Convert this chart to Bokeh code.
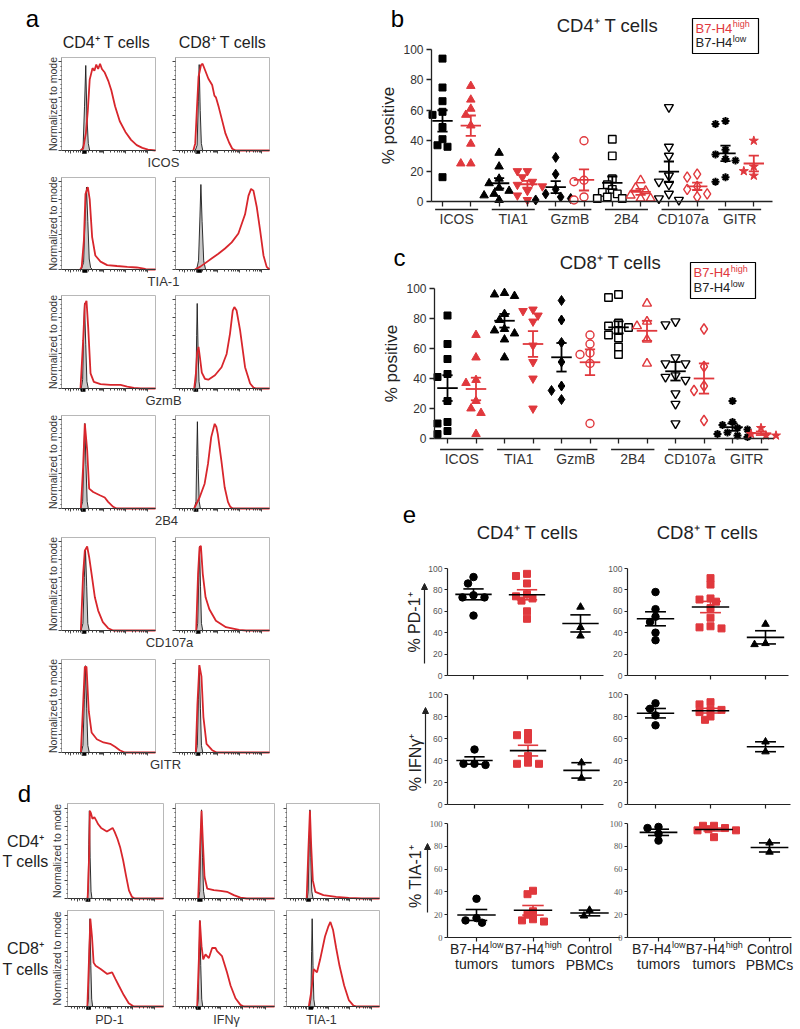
import numpy as np
from bokeh.plotting import figure
from bokeh.models import Range1d, LinearAxis, FixedTicker, Arrow, NormalHead
from bokeh.embed import file_html
from bokeh.resources import INLINE
from bokeh.core.properties import value

FONT = "Liberation Sans"
SERIF = "Liberation Serif"
RED = "#e0383d"
HRED = "#d8262c"
INK = "#222222"

# ======================= DATA =======================
# ---- panel a/d: flow histograms, (x % of axis, y % of mode)
icos_cd4_red = [(20,0),(23,2),(26,20),(28,45),(30,80),(33,93),(35,90),(37,97),(39,92),(41,98),(43,92),(46,88),(50,78),(53,68),(57,50),(62,33),(68,21),(74,12),(80,6),(86,3),(92,1),(100,0)]
icos_cd4_iso = [(21,0),(23,5),(24.5,50),(25.8,96),(27,40),(28.5,8),(30,0)]
icos_cd8_red = [(19,0),(21,8),(22.7,45),(24.5,83),(27,96),(28.8,98),(31.7,90),(35,81),(39,74),(41.4,62),(43,60),(46,49),(49.6,34),(53.2,19),(57,9),(60.4,2),(64,0),(100,0)]
icos_cd8_iso = [(21,0),(23,6),(24.3,55),(25.2,97),(26.3,45),(27.5,8),(29,0)]
tia_cd4_red = [(20,0),(21.5,3),(23.8,33),(25.5,86),(28,94),(30,80),(32.6,37),(36,16),(41.5,9),(48.6,5),(59,4),(70,3),(80,2.3),(87.6,1),(91,0),(100,0)]
tia_cd4_iso = [(21,0),(23.5,8),(25,55),(26.6,94),(28,55),(29.5,12),(31,2),(33,0)]
tia_cd8_red = [(20.6,0),(26,3),(31.3,7),(38.4,12.5),(45.6,18),(52.7,24),(59.8,31),(66.9,41),(74,63),(77.6,84),(80.4,92),(82.9,90),(86.5,71),(90,45),(93.6,16),(97,3),(100,0)]
tia_cd8_iso = [(22.4,0),(24.5,10),(26,60),(27,97),(28.3,55),(30,10),(32,0)]
gzmb_cd4_red = [(20.2,0),(23,54),(24.8,95),(26.6,99),(28.4,69),(30.9,17),(34.4,7.5),(41.5,5),(52,4),(62.8,4),(69.9,2),(77,0.8),(84,0),(100,0)]
gzmb_cd4_iso = [(21,0),(22.5,10),(23.5,60),(24.5,96),(25.8,50),(27,8),(28.5,0)]
gzmb_cd8_red = [(19.9,0),(21.7,17),(23,40),(24.5,47),(26,35),(28,18),(31.3,11),(34.9,10),(42,15),(49,24),(54.4,39),(58,62),(60.9,88),(62.6,92),(65,88),(68.7,66),(74,24),(79.4,5.6),(83,1),(86,0),(100,0)]
gzmb_cd8_iso = [(20.5,0),(21.8,8),(22.5,60),(23.1,96),(24,45),(25,8),(26,0)]
b2b4_cd4_red = [(20.6,0),(23,47),(24.8,96),(27.3,66),(29.4,22.5),(33.7,18.7),(40.8,15),(46,12.4),(49.6,7.5),(55,1.9),(58.5,0),(100,0)]
b2b4_cd4_iso = [(20.5,0),(22.5,8),(23.8,60),(24.8,96),(26,50),(27.3,8),(28.5,0)]
b2b4_cd8_red = [(19.8,0),(25.8,13),(31,28),(34.6,50.6),(38,80.6),(41.7,95.6),(43.5,92),(45,84),(48.8,54),(52.3,24),(55.8,7.5),(58.3,1.9),(61,0),(100,0)]
b2b4_cd8_iso = [(20,0),(21.8,8),(22.6,60),(23.3,98),(24.2,45),(25.2,8),(26.5,0)]
cd107_cd4_red = [(20.6,0),(23,64),(24.8,90),(27.3,95),(29.4,83),(32,64),(35.5,37.5),(39,22.5),(44,9.4),(49.6,2.6),(55,0),(100,0)]
cd107_cd4_iso = [(20.8,0),(22.8,8),(24.3,60),(25.5,92),(26.8,50),(28,8),(29.5,0)]
cd107_cd8_red = [(22,0),(24,64),(25.6,93.8),(27,95.6),(29,64),(32,37.5),(36,24),(43,11),(53.7,3.7),(67.7,0.8),(75,0),(100,0)]
cd107_cd8_iso = [(22.3,0),(23.6,8),(24.8,60),(25.6,95),(26.6,50),(27.6,8),(29,0)]
gitr_cd4_red = [(20.6,0),(23,54),(24.8,96.7),(26.6,96.7),(29,46.6),(32,22.6),(37.6,15),(44.7,11.3),(51.8,9.8),(57,6.4),(62,2.6),(67.4,0),(100,0)]
gitr_cd4_iso = [(21,0),(22.8,8),(24.3,60),(25.5,98),(26.8,50),(28,8),(29.5,0)]
gitr_cd8_red = [(21.6,0),(23.3,54),(25.4,98.6),(27.6,86),(29.7,40),(33,9.8),(39,2.6),(43.8,0),(100,0)]
gitr_cd8_iso = [(21.8,0),(23.2,8),(24.4,60),(25.4,98),(26.5,50),(27.6,8),(29,0)]

d_pd1_cd4_red = [(21,0),(22.6,50),(23.3,97),(24.5,94),(26,88),(28,90),(30,86),(32,82),(35,78),(38,76),(41,74),(44,76),(47,78),(49,74),(52,66),(55,56),(58,42),(61,25),(64,9),(67,2),(70,0),(100,0)]
d_pd1_cd4_iso = [(20.5,0),(21.5,8),(22.2,60),(22.8,97),(23.6,45),(24.5,8),(25.5,0)]
d_ifn_cd4_red = [(22.9,0),(24.6,50),(26.3,97),(27.6,64),(29.3,24),(32,11),(38.7,9.2),(45.5,8.5),(52,7.4),(58.9,3.7),(65.6,1),(72,0),(100,0)]
d_ifn_cd4_iso = [(23.5,0),(24.5,8),(25.5,60),(26.3,98),(27.3,45),(28.3,8),(29.5,0)]
d_tia_cd4_red = [(21.7,0),(23.4,50),(25.2,97),(26.6,57),(28.3,20),(31,7.4),(39.7,3.7),(53.4,1.8),(67,0.7),(81,0),(100,0)]
d_tia_cd4_iso = [(22.3,0),(23.3,8),(24.4,60),(25.2,98),(26.2,45),(27.2,8),(28.5,0)]
d_pd1_cd8_red = [(20.7,0),(22.4,51.6),(23.8,96),(25.5,76.5),(27.2,48),(29.3,44.5),(34.5,41),(41.4,35.6),(46.5,37.4),(50,30),(53.4,23),(58.6,12.5),(63.8,3.6),(69,0),(100,0)]
d_pd1_cd8_iso = [(20.5,0),(21.8,8),(22.6,60),(23.4,96),(24.3,45),(25.2,8),(26.2,0)]
d_ifn_cd8_red = [(21.9,0),(23.6,51.6),(24.6,94),(26.3,66),(28,51.6),(30.3,57),(33.7,53),(37,64),(40.4,64),(42,60.5),(47,55),(52,37.4),(55.6,23),(60.6,9),(65.6,1.8),(69,0),(100,0)]
d_ifn_cd8_iso = [(22,0),(23,8),(23.9,60),(24.6,94),(25.5,45),(26.5,8),(27.5,0)]
d_tia_cd8_red = [(24,0),(26.6,16),(29.3,41),(32.8,37.4),(36.2,51.6),(41.4,76.5),(44.8,87),(47.2,92.5),(50,84),(53.4,64),(57,44.5),(62,23),(67,7),(72,1),(75.9,0),(100,0)]
d_tia_cd8_iso = [(25,0),(26.2,8),(27,60),(27.6,96),(28.5,45),(29.4,8),(30.5,0)]

a_markers = ["ICOS", "TIA-1", "GzmB", "2B4", "CD107a", "GITR"]
d_markers = ["PD-1", "IFNγ", "TIA-1"]

# ---- panel b/c categories
bc_markers = ["ICOS", "TIA1", "GzmB", "2B4", "CD107a", "GITR"]
# panel b (CD4+), % positive
b_icos_low = [94, 75, 66, 59, 57, 49, 41, 37, 36, 16]
b_icos_high = [76, 67, 61, 57, 50, 38, 25, 25]
b_tia1_low = [32, 23, 15, 12, 9, 7, 5, 4, 1]
b_tia1_high = [20, 20, 16, 13, 11, 10, 7, 4, 1]
b_gzmb_low = [29, 18, 8, 5, 3, 2, 1]
b_gzmb_high = [40, 14, 13, 3, 1]
b_2b4_low = [41, 30, 15, 11, 8, 6, 5, 3, 2, 2]
b_2b4_high = [14, 9, 7, 4, 2, 2]
b_cd107a_low = [62, 36, 30, 17, 13, 11, 5, 2, 1]
b_cd107a_high = [18, 16, 10, 8, 5, 3]
b_gitr_low = [53, 51, 34, 31, 28, 27, 16, 13]
b_gitr_high = [40, 23, 20, 17]
# panel c (CD8+), % positive
c_icos_low = [82, 63, 53, 43, 41, 25, 11, 10, 5, 3]
c_icos_high = [69, 54, 39, 37, 25, 20, 17, 3]
c_tia1_low = [97, 96, 95, 83, 79, 73, 72, 70, 66, 54]
c_tia1_high = [86, 85, 82, 78, 62, 51, 40, 20]
c_gzmb_low = [92, 79, 64, 51, 35, 32, 26]
c_gzmb_high = [69, 63, 57, 56, 50, 10]
c_2b4_low = [96, 94, 77, 75, 74, 72, 69, 67, 61, 56]
c_2b4_high = [90, 78, 75, 66, 50]
c_cd107a_low = [78, 76, 54, 50, 50, 42, 41, 39, 30, 23, 10]
c_cd107a_high = [73, 48, 35, 32, 12]
c_gitr_low = [25, 11, 9, 7, 6, 4, 3, 2, 1]
c_gitr_high = [7, 3, 2, 2]

# ---- panel e
pd1_cd4_low = [92, 86, 75, 73, 73, 56]
pd1_cd4_high = [95, 93, 86, 76, 74, 72, 70, 60, 53]
pd1_cd4_ctrl = [64, 45, 37]
pd1_cd8_low = [78, 62, 55, 50, 40, 33]
pd1_cd8_high = [91, 85, 72, 71, 69, 63, 54, 46, 45, 44]
pd1_cd8_ctrl = [48, 30, 29]
ifn_cd4_low = [50, 37, 36, 37]
ifn_cd4_high = [65, 63, 59, 44, 38, 37, 37]
ifn_cd4_ctrl = [38, 24]
ifn_cd8_low = [92, 87, 81, 72]
ifn_cd8_high = [93, 91, 86, 86, 84, 80, 77]
ifn_cd8_ctrl = [57, 48]
tia_cd4_low = [34, 17, 15, 13]
tia_cd4_high = [41, 38, 23, 20, 16, 15, 14]
tia_cd4_ctrl = [24, 19]
tia_cd8_low = [97, 96, 91, 85]
tia_cd8_high = [98, 98, 96, 95, 94, 94, 88]
tia_cd8_ctrl = [83, 75]

# ======================= FIGURE =======================
W, H = 800, 1029
X0, X1, Y0, Y1 = 0, W, 0, H
XR, YR = {}, {}

p = figure(width=W, height=H, x_range=Range1d(X0, X1), y_range=Range1d(Y1, Y0),
           output_backend="svg", toolbar_location=None, min_border=0, title=None,
           x_axis_location=None, y_axis_location=None, outline_line_color=None,
           background_fill_color="white", border_fill_color="white")
p.xgrid.visible = False
p.ygrid.visible = False


def mk_sub(name, xpx, xv, ypx, yv):
    bx = (xpx[1] - xpx[0]) / (xv[1] - xv[0]); ax = xpx[0] - bx * xv[0]
    by = (ypx[1] - ypx[0]) / (yv[1] - yv[0]); ay = ypx[0] - by * yv[0]
    XR[name] = Range1d(start=(X0 - ax) / bx, end=(X1 - ax) / bx)
    YR[name] = Range1d(start=(Y1 - ay) / by, end=(Y0 - ay) / by)
    kw = dict(x_range_name=name, y_range_name=name)
    return kw, (lambda px: (px - ax) / bx), (lambda py: (py - ay) / by), abs(bx), abs(by)


def add_axis(side, kw, loc, bounds, ticks, minor=None, tick_out=5, minor_out=0, labels=False,
             lab_size="12px", lab_color="#333", lab_font=FONT, line_color=INK, line_width=1.2,
             tick_color=None, standoff=3, axis_label=None, al_size="17px", al_standoff=3):
    ax = LinearAxis(fixed_location=loc, bounds=bounds,
                    ticker=FixedTicker(ticks=list(ticks), minor_ticks=list(minor or [])), **kw)
    ax.axis_line_color = line_color
    ax.axis_line_width = line_width
    ax.major_tick_line_color = tick_color or line_color
    ax.major_tick_line_width = line_width
    ax.major_tick_out = int(tick_out)
    ax.major_tick_in = 0
    ax.minor_tick_out = int(minor_out)
    ax.minor_tick_in = 0
    ax.minor_tick_line_color = (tick_color or line_color) if minor else None
    if labels:
        ax.major_label_text_font_size = lab_size
        ax.major_label_text_color = lab_color
        ax.major_label_text_font = lab_font
        ax.major_label_standoff = standoff
    else:
        ax.major_label_text_color = None
    if axis_label:
        ax.axis_label = axis_label
        ax.axis_label_text_font = FONT
        ax.axis_label_text_font_size = al_size
        ax.axis_label_text_font_style = "normal"
        ax.axis_label_text_color = INK
        ax.axis_label_standoff = al_standoff
    p.add_layout(ax, side)
    return ax


def txt(x, y, s, size, color=INK, align="center", angle=0.0, font=FONT, x_offset=0, style="normal"):
    p.text(x=[x], y=[y], text=[s], text_font=value(font), text_font_size=size,
           text_align=align, text_baseline="middle", text_color=color, angle=angle,
           x_offset=x_offset, text_font_style=style)


def sup_txt(x, y, main, sup, size, supsize, wmain, color=INK):
    txt(x, y, main, size, color=color, align="left")
    txt(x + wmain + 0.5, y - 4, sup, supsize, color=color, align="left")


def swarm_offsets(vals, px_per_val, px_per_x, diam=7.0, step=5.0):
    vals = np.asarray(vals, float)
    order = np.argsort(-vals, kind="stable")
    placed, offs = [], np.zeros(len(vals))
    for i in order:
        yy = vals[i] * px_per_val
        xx = 0.0
        for k in [0, -1, 1, -2, 2, -3, 3, -4, 4]:
            xx = k * step
            if all((xx - a) ** 2 + (yy - b) ** 2 >= diam ** 2 for a, b in placed):
                break
        placed.append((xx, yy))
        offs[i] = xx / px_per_x
    return offs


def mean_sem(vals):
    v = np.asarray(vals, float)
    return v.mean(), v.std(ddof=1) / np.sqrt(len(v))


def draw_group(kw, xc, vals, marker, size, color, fill, lw_m, ppv, ppx, mean_hw, whisk_hw,
               bar_color, mean_color, lw=1.8, step=5.0):
    offs = swarm_offsets(vals, ppv, ppx, diam=size * 0.9, step=step)
    p.scatter(x=list(xc + offs), y=list(vals), marker=marker, size=size, fill_color=fill,
              line_color=color, line_width=lw_m, **kw)
    m, s = mean_sem(vals)
    p.segment(x0=[xc - whisk_hw, xc - whisk_hw, xc], y0=[m + s, m - s, m - s],
              x1=[xc + whisk_hw, xc + whisk_hw, xc], y1=[m + s, m - s, m + s],
              line_color=bar_color, line_width=lw, **kw)
    p.segment(x0=[xc - mean_hw], y0=[m], x1=[xc + mean_hw], y1=[m],
              line_color=mean_color, line_width=lw, **kw)


# ---------------- histograms (panels a and d) ----------------
HX_MAJOR = [10, 22, 45, 68, 91]
HX_MINOR = [4, 7, 13, 16, 18, 20, 29, 33, 37, 40, 42, 43, 44, 52, 56, 60, 62, 64, 66, 67, 75, 79, 83, 85, 87, 89, 90]
HY_MAJOR = [0, 20, 40, 60, 80, 100]
HY_MINOR = [5, 10, 15, 25, 30, 35, 45, 50, 55, 65, 70, 75, 85, 90, 95]


def hist(tag, xpx, ypx, red, iso):
    kw, fx, fy, _, _ = mk_sub(tag, xpx, (0, 100), (ypx[1], ypx[0]), (0, 105))
    p.quad(left=[0], right=[100], bottom=[0], top=[105], fill_color=None,
           line_color="#b8b8b8", line_width=1, **kw)
    ix, iy = zip(*iso)
    p.patch(list(ix), list(iy), fill_color="#c8c8c8", line_color="#1a1a1a", line_width=0.9, **kw)
    rx, ry = zip(*red)
    p.line(list(rx), list(ry), line_color=HRED, line_width=1.8, **kw)
    peak = iso[int(np.argmax([q[1] for q in iso]))][0]
    p.quad(left=[peak - 4], right=[peak + 1], top=[fy(ypx[1] + 0.5)], bottom=[fy(ypx[1] + 3.2)],
           fill_color="black", line_color=None, **kw)
    add_axis("left", kw, 0, (0, 105), HY_MAJOR, HY_MINOR, tick_out=3, minor_out=1,
             line_color="#9a9a9a", tick_color="#444", line_width=1)
    add_axis("below", kw, 0, (0, 100), HX_MAJOR, HX_MINOR, tick_out=3, minor_out=2,
             line_color="#333", tick_color="#444", line_width=1)


A_ROWS = [(57, 150), (177, 269), (295, 388), (415, 508), (537, 630), (659, 752)]
A_COLS = [(61, 155), (175, 269)]
A_LABEL_X = [163, 163, 163, 166, 169, 165]
a_pairs = [(icos_cd4_red, icos_cd4_iso, icos_cd8_red, icos_cd8_iso),
           (tia_cd4_red, tia_cd4_iso, tia_cd8_red, tia_cd8_iso),
           (gzmb_cd4_red, gzmb_cd4_iso, gzmb_cd8_red, gzmb_cd8_iso),
           (b2b4_cd4_red, b2b4_cd4_iso, b2b4_cd8_red, b2b4_cd8_iso),
           (cd107_cd4_red, cd107_cd4_iso, cd107_cd8_red, cd107_cd8_iso),
           (gitr_cd4_red, gitr_cd4_iso, gitr_cd8_red, gitr_cd8_iso)]

txt(32, 18, "a", "24px", color="black")
txt(106, 42, "CD4⁺ T cells", "16px")
txt(222, 42, "CD8⁺ T cells", "16px")
for r, (rows, pair) in enumerate(zip(A_ROWS, a_pairs)):
    hist(f"a{r}l", A_COLS[0], rows, pair[0], pair[1])
    hist(f"a{r}r", A_COLS[1], rows, pair[2], pair[3])
    txt(52, (rows[0] + rows[1]) / 2, "Normalized to mode", "10.5px", color="#333", angle=np.pi / 2)
    txt(A_LABEL_X[r], rows[1] + 12, a_markers[r], "13px", color="#333")

D_ROWS = [(803, 898), (910, 1006)]
D_COLS = [(67, 163), (175, 274), (286, 379)]
d_hists = [[(d_pd1_cd4_red, d_pd1_cd4_iso), (d_ifn_cd4_red, d_ifn_cd4_iso), (d_tia_cd4_red, d_tia_cd4_iso)],
           [(d_pd1_cd8_red, d_pd1_cd8_iso), (d_ifn_cd8_red, d_ifn_cd8_iso), (d_tia_cd8_red, d_tia_cd8_iso)]]
txt(24, 793, "d", "24px", color="black")
for r, rows in enumerate(D_ROWS):
    for c, cols in enumerate(D_COLS):
        red, iso = d_hists[r][c]
        hist(f"d{r}{c}", cols, rows, red, iso)
    txt(56, (rows[0] + rows[1]) / 2, "Normalized to mode", "10.5px", color="#333", angle=np.pi / 2)
txt(25, 841, "CD4⁺", "16px")
txt(25, 861, "T cells", "16px")
txt(25, 948, "CD8⁺", "16px")
txt(25, 969, "T cells", "16px")
D_LABEL_X = [109, 226, 321]
for c in range(3):
    txt(D_LABEL_X[c], 1019, d_markers[c], "12.5px", color="#333")

# ---------------- panels b and c ----------------
LOW_STYLE = [("square", 7, "black", "black", 1),
             ("triangle", 8.5, "black", "black", 1),
             ("diamond", 10, "black", "black", 1),
             ("square", 7.5, "black", "white", 1.4),
             ("inverted_triangle", 9, "black", "white", 1.4),
             ("asterisk", 8, "black", "black", 2.0)]
HIGH_STYLE = [("triangle", 8.5, RED, RED, 1),
              ("inverted_triangle", 8.5, RED, RED, 1),
              ("circle", 8, RED, "white", 1.4),
              ("triangle", 9, RED, "white", 1.4),
              ("diamond", 10.5, RED, "white", 1.4),
              ("star", 9.5, RED, RED, 1)]


def dot_panel(tag, lows, highs, x1_px, pitch, yaxis_px, xend_px, py100, py0, gl_py, gt_py):
    kw, fx, fy, ppx, ppv = mk_sub(tag, (x1_px, x1_px + pitch), (1, 2), (py0, py100), (0, 100))
    x_lo, x_hi = fx(yaxis_px), fx(xend_px)
    for i in range(6):
        for j, (vals, st) in enumerate(((lows[i], LOW_STYLE[i]), (highs[i], HIGH_STYLE[i]))):
            xc = 2 * i + 1 + j
            col = "black" if j == 0 else RED
            draw_group(kw, xc, vals, st[0], st[1], st[2], st[3], st[4], ppv, ppx,
                       0.36, 0.18, col, col, lw=1.8, step=5.0)
    add_axis("left", kw, x_lo, (0, 100), [0, 20, 40, 60, 80, 100], tick_out=5, labels=True,
             lab_size="12px", lab_color="#333", line_color=INK, line_width=1.3, standoff=3,
             axis_label="% positive", al_size="17px", al_standoff=2)
    add_axis("below", kw, 0, (x_lo, x_hi), list(range(1, 13)), tick_out=5,
             line_color=INK, line_width=1.3)
    centers = [2 * i + 1.5 for i in range(6)]
    p.segment(x0=[c - 0.76 for c in centers], x1=[c + 0.76 for c in centers],
              y0=[fy(gl_py)] * 6, y1=[fy(gl_py)] * 6, line_color=INK, line_width=1.3, **kw)
    p.text(x=centers, y=[fy(gt_py)] * 6, text=bc_markers, text_font=value(FONT),
           text_font_size="14px", text_align="center", text_baseline="middle",
           text_color="#333", **kw)


b_lows = [b_icos_low, b_tia1_low, b_gzmb_low, b_2b4_low, b_cd107a_low, b_gitr_low]
b_highs = [b_icos_high, b_tia1_high, b_gzmb_high, b_2b4_high, b_cd107a_high, b_gitr_high]
c_lows = [c_icos_low, c_tia1_low, c_gzmb_low, c_2b4_low, c_cd107a_low, c_gitr_low]
c_highs = [c_icos_high, c_tia1_high, c_gzmb_high, c_2b4_high, c_cd107a_high, c_gitr_high]

dot_panel("b", b_lows, b_highs, 442, 28.3, 431, 772, 49, 201, 209, 218)
dot_panel("c", c_lows, c_highs, 447, 28.5, 434, 773, 288, 438, 449, 458)

W_B7 = 2.834 * 13
# panel b decorations
txt(397, 18, "b", "24px", color="black")
txt(607, 25, "CD4⁺ T cells", "18.5px")
p.quad(left=[692], right=[758], top=[18], bottom=[53], fill_color=None, line_color="black", line_width=1.2)
sup_txt(695, 27.5, "B7-H4", "high", "13px", "9px", W_B7, color=RED)
sup_txt(695, 42, "B7-H4", "low", "13px", "9px", W_B7, color=INK)
# panel c decorations
txt(399, 257, "c", "24px", color="black")
txt(610, 262, "CD8⁺ T cells", "18.5px")
p.quad(left=[690], right=[755], top=[262], bottom=[298], fill_color=None, line_color="black", line_width=1.2)
sup_txt(693, 272, "B7-H4", "high", "13px", "9px", W_B7, color=RED)
sup_txt(693, 287, "B7-H4", "low", "13px", "9px", W_B7, color=INK)

# ---------------- panel e ----------------
E_ROWS = [(568, 675), (694, 804), (823, 937)]
E_LEFT = [(447, 473, 53.5, 603), (447, 474, 53.5, 603), (447, 476, 56.5, 620)]
E_RIGHT = [(627, 655, 55, 788), (627, 655, 55, 790), (627, 658, 55.5, 791)]
e_data = [[(pd1_cd4_low, pd1_cd4_high, pd1_cd4_ctrl), (pd1_cd8_low, pd1_cd8_high, pd1_cd8_ctrl)],
          [(ifn_cd4_low, ifn_cd4_high, ifn_cd4_ctrl), (ifn_cd8_low, ifn_cd8_high, ifn_cd8_ctrl)],
          [(tia_cd4_low, tia_cd4_high, tia_cd4_ctrl), (tia_cd8_low, tia_cd8_high, tia_cd8_ctrl)]]
E_STYLE = [("circle", 7.5, "black", "black"), ("square", 7, RED, RED), ("triangle", 7.5, "black", "black")]

for r in range(3):
    py100, py0 = E_ROWS[r]
    for c, geo in enumerate((E_LEFT[r], E_RIGHT[r])):
        yax_px, x1_px, pitch, xend_px = geo
        kw, fx, fy, ppx, ppv = mk_sub(f"e{r}{c}", (x1_px, x1_px + pitch), (1, 2), (py0, py100), (0, 100))
        for g in range(3):
            mk, sz, col, fill = E_STYLE[g]
            bar_col = RED if g == 1 else "black"
            draw_group(kw, g + 1, e_data[r][c][g], mk, sz, col, fill, 1, ppv, ppx,
                       0.34, 0.19, bar_col, "black", lw=1.6, step=5.5)
        add_axis("left", kw, fx(yax_px), (0, 100), [0, 20, 40, 60, 80, 100], tick_out=3,
                 labels=True, lab_size="8.5px", lab_color="#555",
                 lab_font=SERIF if r == 2 else FONT, line_color=INK, line_width=1.2, standoff=2)
        add_axis("below", kw, 0, (fx(yax_px), fx(xend_px)), [1, 2, 3], tick_out=4,
                 line_color=INK, line_width=1.2)
        if r == 2:
            W14 = 2.834 * 14
            for g in range(3):
                if g < 2:
                    sup = "low" if g == 0 else "high"
                    wsup = (1.5 if g == 0 else 1.89) * 9
                    tot = W14 + wsup
                    p.text(x=[g + 1], y=[fy(948)], text=["B7-H4"], text_font=value(FONT),
                           text_font_size="14px", text_align="left", text_baseline="middle",
                           text_color=INK, x_offset=-tot / 2, **kw)
                    p.text(x=[g + 1], y=[fy(944)], text=[sup], text_font=value(FONT),
                           text_font_size="9px", text_align="left", text_baseline="middle",
                           text_color=INK, x_offset=-tot / 2 + W14 + 0.5, **kw)
                    p.text(x=[g + 1], y=[fy(963)], text=["tumors"], text_font=value(FONT),
                           text_font_size="14px", text_align="center", text_baseline="middle",
                           text_color=INK, **kw)
                else:
                    p.text(x=[g + 1, g + 1], y=[fy(948), fy(964)], text=["Control", "PBMCs"],
                           text_font=value(FONT), text_font_size="14px", text_align="center",
                           text_baseline="middle", text_color=INK, **kw)

txt(409, 514, "e", "24px", color="black")
txt(527, 532, "CD4⁺ T cells", "18.5px")
txt(707, 532, "CD8⁺ T cells", "18.5px")
for lab, tx, ty, axx, ay0, ay1 in [("% PD-1⁺", 414, 622, 424, 663, 583),
                                   ("% IFNγ⁺", 415, 762, 425, 783, 707),
                                   ("% TIA-1⁺", 415, 876, 427, 912, 843)]:
    txt(tx, ty, lab, "16px", angle=np.pi / 2)
    p.add_layout(Arrow(end=NormalHead(size=6, line_color=INK, fill_color=INK),
                       x_start=axx, y_start=ay0, x_end=axx, y_end=ay1,
                       line_color=INK, line_width=1.2))

p.extra_x_ranges = XR
p.extra_y_ranges = YR

open("out.html", "w").write(file_html(p, INLINE))
